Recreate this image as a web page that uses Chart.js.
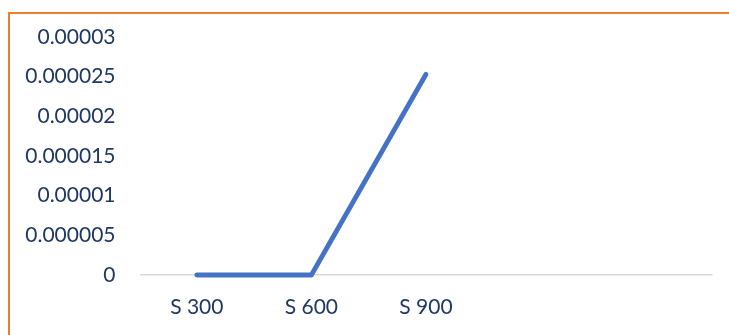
<!DOCTYPE html>
<html>
<head>
<meta charset="utf-8">
<script src="https://cdn.jsdelivr.net/npm/chart.js@4/dist/chart.umd.min.js"></script>
<style>
  html, body { margin: 0; padding: 0; background: #ffffff; }
  #wrap { position: relative; width: 729px; height: 335px; overflow: hidden; }
  #frame {
    position: absolute; left: 8px; top: 12px; width: 760px; height: 360px;
    border-top: 2px solid #ED7D31; border-left: 2px solid #ED7D31;
    box-sizing: border-box; pointer-events: none;
  }
  canvas { position: absolute; left: 0; top: 0; }
</style>
</head>
<body>
<div id="wrap">
  <div id="frame"></div>
  <canvas id="chart" width="729" height="335"></canvas>
</div>
<script>
// Categories along the x axis (last two slots are empty)
const categories = ['S 300', 'S 600', 'S 900', '', ''];
// Series values
const seriesValues = [0, 0, 0.0000253, null, null];
// Y axis tick labels, from bottom to top
const yTickLabels = ['0', '0.000005', '0.00001', '0.000015', '0.00002', '0.000025', '0.00003'];

const textColor = '#1F3864';
const fontSpec = { family: 'Lato, "Liberation Sans", sans-serif', size: 21 };

new Chart(document.getElementById('chart'), {
  type: 'line',
  data: {
    labels: categories,
    datasets: [{
      data: seriesValues,
      borderColor: '#4472C4',
      backgroundColor: '#4472C4',
      borderWidth: 4.8,
      borderCapStyle: 'round',
      borderJoinStyle: 'round',
      pointRadius: 0,
      pointHoverRadius: 0,
      tension: 0,
      fill: false,
      clip: false
    }]
  },
  options: {
    responsive: false,
    animation: false,
    events: [],
    layout: { padding: { left: 0, right: 16.5, top: 37, bottom: 0 } },
    plugins: {
      legend: { display: false },
      tooltip: { enabled: false },
      title: { display: false }
    },
    scales: {
      x: {
        offset: true,
        grid: { display: false, drawTicks: false },
        border: { display: false },
        ticks: {
          color: textColor,
          font: fontSpec,
          padding: 20,
          maxRotation: 0,
          autoSkip: false
        },
        afterFit(scale) { scale.height = 60; }
      },
      y: {
        min: 0,
        max: 0.00003,
        grid: {
          drawTicks: false,
          lineWidth: 1.5,
          color: (ctx) => (ctx.tick && ctx.tick.value === 0 ? '#D9D9D9' : 'rgba(0,0,0,0)')
        },
        border: { display: false },
        ticks: {
          stepSize: 0.000005,
          color: textColor,
          font: fontSpec,
          padding: 24,
          callback: (value, index) => yTickLabels[index]
        },
        afterFit(scale) { scale.width = 139.5; }
      }
    }
  }
});
</script>
</body>
</html>
